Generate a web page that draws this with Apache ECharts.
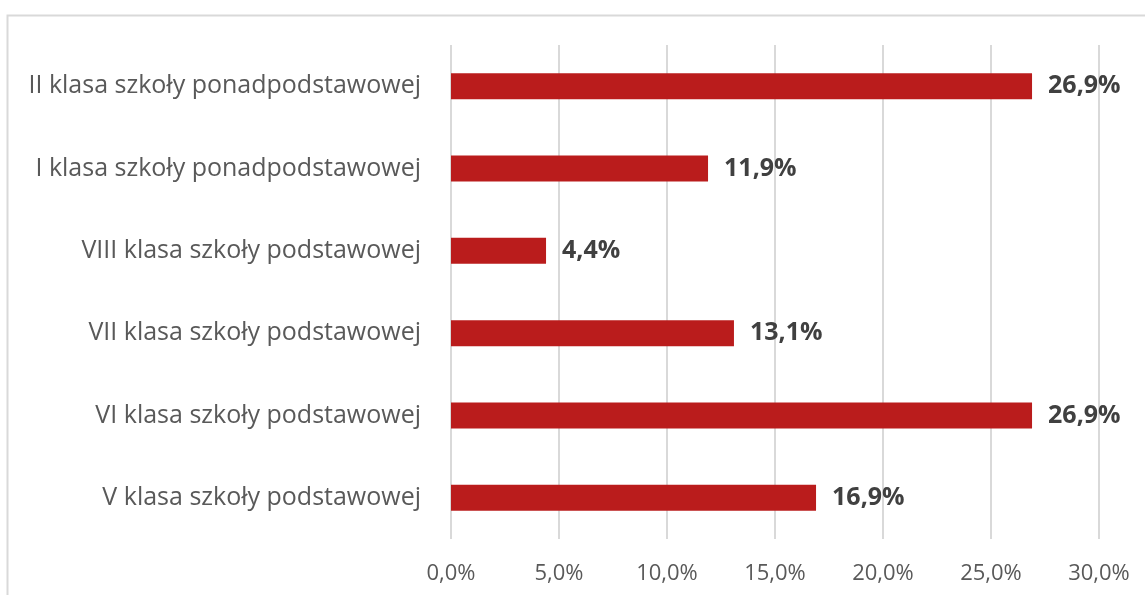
<!DOCTYPE html>
<html><head><meta charset="utf-8">
<script src="https://cdn.jsdelivr.net/npm/echarts@6/dist/echarts.min.js"></script>
<style>html,body{margin:0;padding:0;background:#fff}#c{width:1145px;height:595px}</style>
</head><body><div id="c"></div>
<script>
const categories = ["V klasa szkoły podstawowej","VI klasa szkoły podstawowej","VII klasa szkoły podstawowej","VIII klasa szkoły podstawowej","I klasa szkoły ponadpodstawowej","II klasa szkoły ponadpodstawowej"];
const values = [16.9, 26.9, 13.1, 4.4, 11.9, 26.9];
const xTicks = [0, 5, 10, 15, 20, 25, 30];
const fmt = v => v.toFixed(1).replace('.', ',') + '%';
const chart = echarts.init(document.getElementById('c'), null, {renderer:'canvas'});
chart.setOption({
  animation:false,
  backgroundColor:'#fff',
  graphic:[{type:'polyline', shape:{points:[[7.5,600],[7.5,15.5],[1150,15.5]]}, style:{stroke:'#d9d9d9', lineWidth:2, fill:null}}],
  grid:{left:451, right:46, top:45, bottom:56, containLabel:false},
  xAxis:{type:'value', min:xTicks[0], max:xTicks[xTicks.length-1], interval:5,
    axisLine:{show:false}, axisTick:{show:false},
    splitLine:{lineStyle:{color:'#d9d9d9', width:2}},
    axisLabel:{formatter:fmt, color:'#595959', fontSize:22, fontFamily:'Open Sans', margin:24}},
  yAxis:{type:'category', data:categories,
    axisLine:{show:false}, axisTick:{show:false},
    axisLabel:{color:'#595959', fontSize:25, fontFamily:'Open Sans', margin:30}},
  series:[{type:'bar', data:values, barWidth:26, itemStyle:{color:'#BA1C1C'},
    label:{show:true, position:'right', distance:16, formatter:p=>fmt(p.value),
      color:'#404040', fontSize:25, fontWeight:'bold', fontFamily:'Open Sans'}}]
});
</script></body></html>
